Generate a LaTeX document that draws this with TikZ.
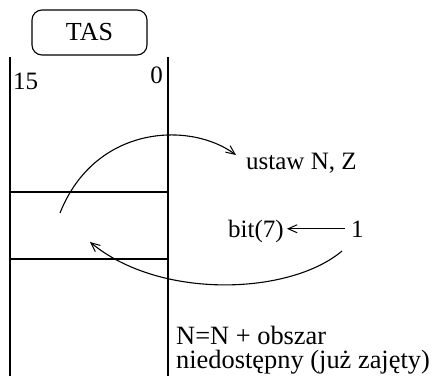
\documentclass[tikz,border=0pt]{standalone}
\usepackage{fontspec}
\setmainfont{Liberation Serif}
\usetikzlibrary{arrows.meta}
\begin{document}
\begin{tikzpicture}[x=1pt,y=1pt,
  lw/.style={line width=1.1pt},
  lbl/.style={inner sep=0pt,font=\fontsize{25}{22}\selectfont},
  biglbl/.style={inner sep=0pt,font=\fontsize{26.4}{22}\selectfont},
  barb/.style={lw,-{Straight Barb[length=9pt,width=8pt,line width=1pt]}},
  tasbox/.style={draw,lw,rounded corners=10pt,minimum width=115pt,minimum height=45pt,inner sep=0pt,font=\fontsize{26}{22}\selectfont}]
\useasboundingbox (0,0) rectangle (435,-376);
% TAS box
\node[tasbox] (tas) at (89.5,-32.5) {TAS};
% register
\draw[lw] (10,-57) -- (10,-376);
\draw[lw] (168,-57) -- (168,-376);
\draw[lw] (10,-192) -- (168,-192);
\draw[lw] (10,-259) -- (168,-259);
\node[lbl,anchor=base west] (b15) at (13,-89) {15};
\node[lbl,anchor=base east] (b0) at (163,-83) {0};
% labels
\node[lbl,anchor=base west] (ustaw) at (246,-169) {ustaw N, Z};
\node[lbl,anchor=base west] (bit) at (228,-237) {bit(7)};
\node[lbl,anchor=base west] (one) at (351,-237) {1};
\node[biglbl,anchor=base west] (nn) at (176,-344) {N=N + obszar};
\node[biglbl,anchor=base west] (nied) at (176,-368) {niedostępny (już zajęty)};
% arrows
\draw[barb,shorten <=6pt,shorten >=3pt] (one.west) -- (one.west -| bit.east);
\coordinate (ua) at (60,-213);
\coordinate (ub) at (236,-155);
\draw[barb] (ua) .. controls (95,-125) and (190,-121) .. (ub);
\coordinate (la) at (342,-251);
\coordinate (lb) at (90,-242);
\draw[barb] (la) .. controls (290,-295) and (160,-300) .. (lb);
\end{tikzpicture}
\end{document}
